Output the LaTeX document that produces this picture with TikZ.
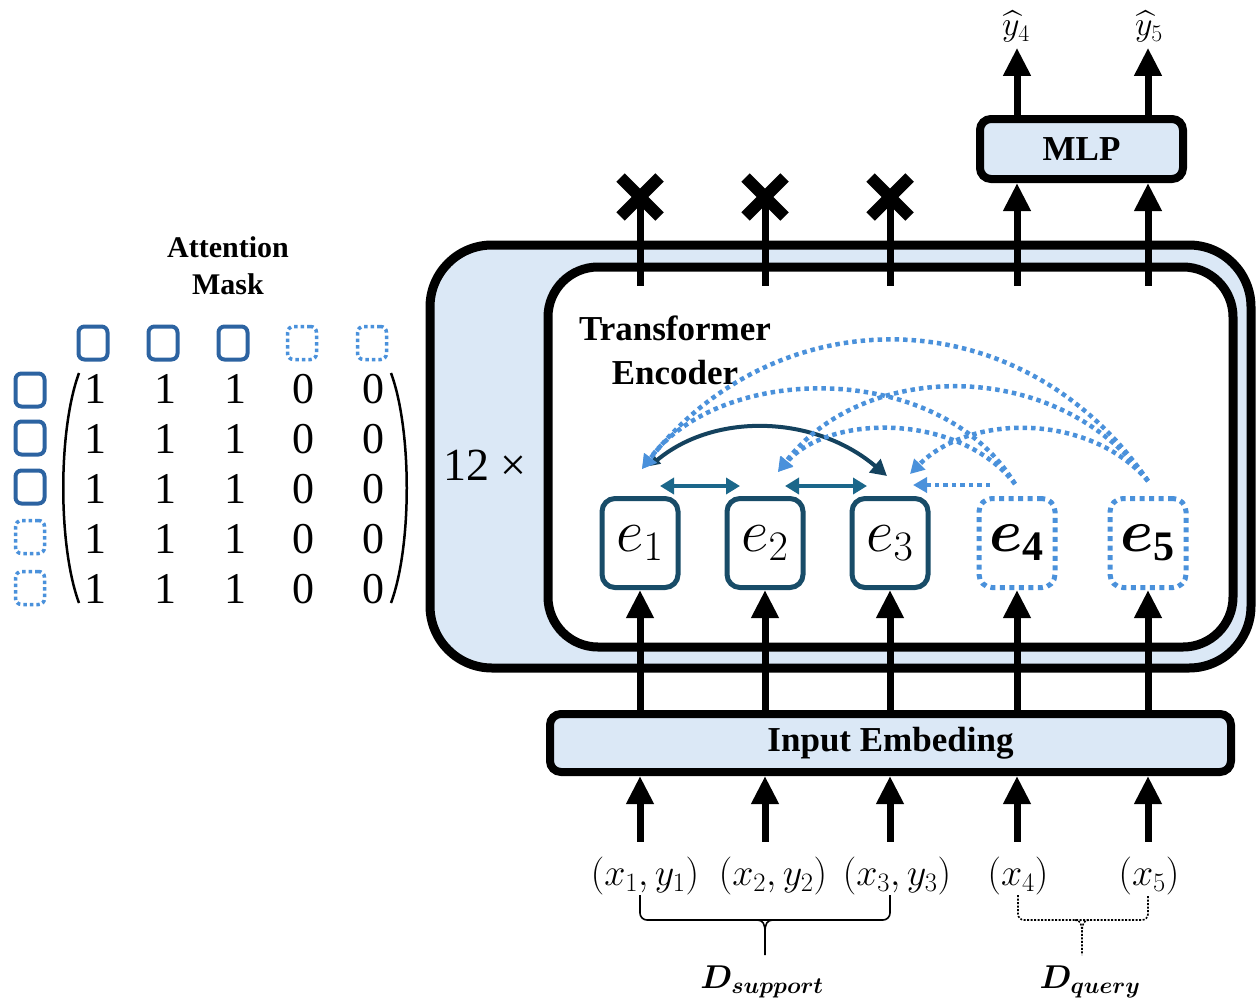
\RequirePackage{fix-cm}
\documentclass[tikz,border=0pt]{standalone}
\usepackage{amsmath, amssymb, bm}
\usepackage{fontspec}
\setmainfont{Liberation Serif}
\usepackage{tikz}
\usetikzlibrary{arrows.meta, positioning, shapes.misc, calc}

\definecolor{boxfill}{RGB}{219,232,246}
\definecolor{tokdark}{RGB}{24,76,104}
\definecolor{arcdark}{RGB}{20,66,94}
\definecolor{pairteal}{RGB}{27,103,138}
\definecolor{qblue}{RGB}{74,145,219}
\definecolor{maskblue}{RGB}{44,99,161}

\begin{document}
\begin{tikzpicture}[x=1pt, y=-1pt,
  stage/.style={draw, line width=8pt, rounded corners=11pt, fill=boxfill, inner sep=0pt,
    font=\fontsize{35}{42}\selectfont\bfseries},
  token/.style={draw=tokdark, fill=white, line width=5pt, rounded corners=13pt, inner sep=0pt,
    minimum width=76pt, minimum height=89pt, font=\fontsize{60}{60}\selectfont},
  qtoken/.style={token, draw=qblue, dash pattern=on 5pt off 4.5pt},
  flow/.style={line width=7pt, -{Triangle[length=28pt, width=26pt]}},
  pair/.style={pairteal, line width=4pt,
    {Triangle[length=14pt, width=16pt]}-{Triangle[length=14pt, width=16pt]}},
  attn/.style={qblue, line width=4.5pt, dash pattern=on 4.5pt off 4pt,
    -{Triangle[length=14pt, width=15pt]}},
  kbox/.style={draw=maskblue, line width=4pt, rounded corners=6pt,
    minimum width=29pt, minimum height=33pt},
  qbox/.style={kbox, draw=qblue, line width=3.5pt, dash pattern=on 3.5pt off 3pt},
  entry/.style={font=\fontsize{44}{44}\selectfont},
  drop/.style={cross out, draw, line width=12pt, minimum size=27pt, inner sep=0pt},
  inlabel/.style={font=\fontsize{38}{38}\selectfont},
  outlabel/.style={font=\fontsize{34}{34}\selectfont, inner sep=1pt},
]
  \useasboundingbox (0,0) rectangle (1258,999);

  % Define columns
  \foreach \i/\x in {1/640, 2/765, 3/890, 4/1017, 5/1148} {
    \coordinate (c\i) at (\x,0);
  }

  % Stacked encoder
  \node[draw, line width=9pt, rounded corners=62pt, fill=boxfill,
    minimum width=821pt, minimum height=423pt] (stack) at (840.5,456.5) {};
  \node[draw, line width=9pt, rounded corners=50pt, fill=white,
    minimum width=685pt, minimum height=380pt] (encoder) at (890.5,457) {};
  \node[font=\fontsize{46}{46}\selectfont] (rep) at (485,465) {12 ×};
  \node[font=\fontsize{35}{44}\selectfont\bfseries, align=center] (enclabel) at (675,350)
    {Transformer\\Encoder};

  % Tokens
  \foreach \i/\x in {1/640, 2/765, 3/890} {
    \node[token] (e\i) at (\x,543) {$e_{\i}$};
  }
  \foreach \i/\x in {4/1017, 5/1148} {
    \node[qtoken] (e\i) at (\x,543) {$\bm{e}_{\mathbf{\i}}$};
  }

  % Embedding and head
  \node[stage, minimum width=681pt, minimum height=58pt] (emb) at (890.5,743) {Input Embeding};
  \node[stage, minimum width=203pt, minimum height=60pt] (mlp) at (1081.5,149) {MLP};

  % Inputs
  \node[inlabel] (d1) at (645,876) {$(x_1,y_1)$};
  \node[inlabel] (d2) at (773,876) {$(x_2,y_2)$};
  \node[inlabel] (d3) at (897,876) {$(x_3,y_3)$};
  \node[inlabel] (d4) at (1018,876) {$(x_4)$};
  \node[inlabel] (d5) at (1149,876) {$(x_5)$};

  \foreach \i in {1,...,5} {
    \draw[flow] ($(c\i |- d\i.north)+(0,-12)$) -- (c\i |- emb.south);
    \draw[flow] (c\i |- emb.north) -- (e\i.south);
  }

  % Outputs
  \foreach \i/\x in {1/640, 2/765, 3/890} {
    \node[drop] (x\i) at (\x,197) {};
    \draw[line width=7pt] ($(c\i |- encoder.north)+(0,23)$) -- (x\i.center);
  }
  \node[outlabel] (y4) at (1016,27) {$\widehat{y}_4$};
  \node[outlabel] (y5) at (1149,27) {$\widehat{y}_5$};
  \foreach \i in {4,5} {
    \draw[flow] ($(c\i |- encoder.north)+(0,23)$) -- (c\i |- mlp.south);
    \draw[flow] (c\i |- mlp.north) -- ($(c\i |- y\i.south)+(0,4)$);
  }

  % Attention ports
  \coordinate (a1) at ($(e1.north)+(2,-27)$);
  \coordinate (a2) at ($(e2.north)+(13,-24)$);
  \coordinate (a3) at ($(e3.north)+(20,-22)$);
  \coordinate (q4) at ($(e4.north)+(-2,-12)$);
  \coordinate (q5) at ($(e5.north)+(0,-15)$);

  % Support tokens see each other
  \draw[pair] ($(e1.north)+(20,-10)$) -- ($(e2.north)+(-25,-10)$);
  \draw[pair] ($(e2.north)+(20,-10)$) -- ($(e3.north)+(-23,-10)$);
  \draw[arcdark, line width=4pt,
    {Triangle[length=10pt, width=10pt]}-{Triangle[length=16pt, width=17pt]}]
    ($(e1.north)+(10,-30)$) .. controls (715,412) and (815,415) .. ($(e3.north)+(-3,-20)$);

  % Queries see the support set
  \draw[attn] ($(e4.north)+(-27,-11)$) -- ($(e3.north)+(23,-11)$);
  \draw[attn] (q4) .. controls (960,413) and (830,413) .. (a2);
  \draw[attn] (q4) .. controls (940,360) and (722,362) .. (a1);
  \draw[attn] (q5) .. controls (1090,413) and (970,413) .. (a3);
  \draw[attn] (q5) .. controls (1060,358) and (865,358) .. (a2);
  \draw[attn] (q5) .. controls (1020,294) and (776,298) .. (a1);

  % Braces
  \draw[line width=1.6pt, rounded corners=7pt] (640,895) -- (640,920) -- (890,920) -- (890,895);
  \draw[line width=1.6pt] (757,920) .. controls (763,920) and (765,924) .. (765,932) -- (765,955);
  \draw[line width=1.6pt] (773,920) .. controls (767,920) and (765,924) .. (765,932);
  \draw[line width=1.6pt, dash pattern=on 2pt off 1.5pt, rounded corners=6pt]
    (1018,895) -- (1018,920) -- (1148,920) -- (1148,895);
  \draw[line width=1.6pt, dash pattern=on 2pt off 1.5pt]
    (1075,920) .. controls (1080,920) and (1082,924) .. (1082,932) -- (1082,955);
  \draw[line width=1.6pt, dash pattern=on 2pt off 1.5pt]
    (1089,920) .. controls (1084,920) and (1082,924) .. (1082,932);
  \node[font=\fontsize{33}{33}\selectfont] (dsup) at (762,982) {$\bm{D}_{\bm{support}}$};
  \node[font=\fontsize{33}{33}\selectfont] (dqry) at (1090,982) {$\bm{D}_{\bm{query}}$};

  % Attention mask
  \node[font=\fontsize{30}{37}\selectfont\bfseries, align=center] (masklabel) at (228,266)
    {Attention\\Mask};
  \foreach \j/\x in {1/93, 2/163, 3/233} {
    \node[kbox] (h\j) at (\x,343) {};
  }
  \foreach \j/\x in {4/302, 5/372} {
    \node[qbox] (h\j) at (\x,343) {};
  }
  \foreach \i/\y in {1/390, 2/438, 3/487} {
    \node[kbox] (r\i) at (30,\y) {};
  }
  \foreach \i/\y in {4/537, 5/588} {
    \node[qbox] (r\i) at (30,\y) {};
  }
  \foreach \i/\y in {1/389, 2/439, 3/489, 4/539, 5/589} {
    \foreach \j/\x/\v in {1/95/1, 2/165/1, 3/235/1, 4/303/0, 5/373/0} {
      \node[entry] (m\i\j) at (\x,\y) {\v};
    }
  }
  \draw[line width=2.5pt] (79,373) .. controls (58,430) and (58,546) .. (79,603);
  \draw[line width=2.5pt] (391,373) .. controls (412,430) and (412,546) .. (391,603);
\end{tikzpicture}
\end{document}
